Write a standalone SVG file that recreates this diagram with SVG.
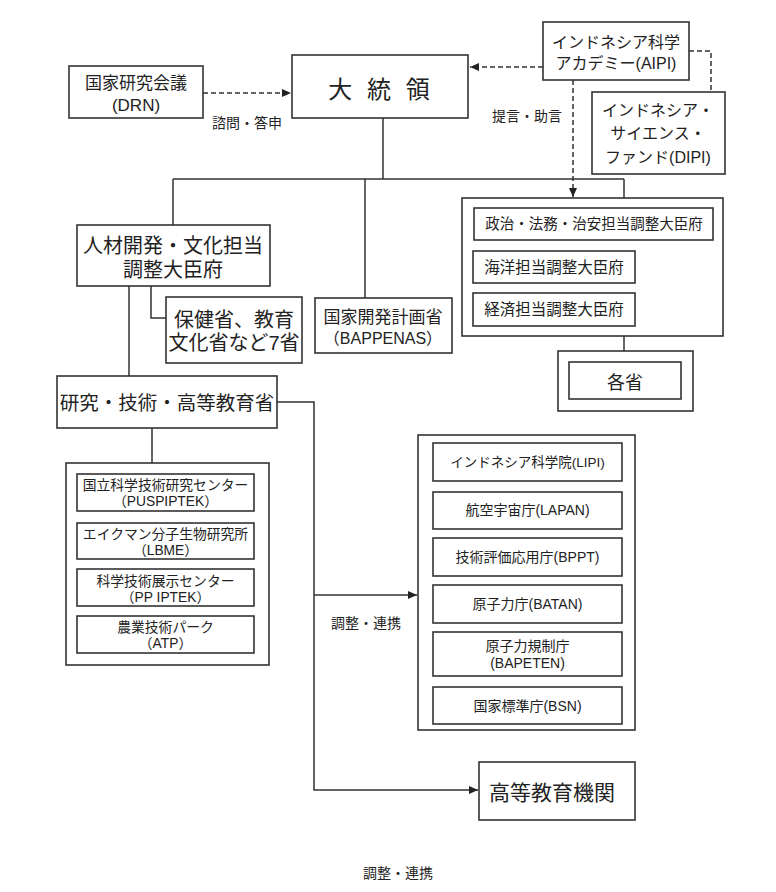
<svg xmlns="http://www.w3.org/2000/svg" width="776" height="892" viewBox="0 0 776 892">
<style>
.box{fill:#fff;stroke:#333;stroke-width:1.6}
.ln{fill:none;stroke:#333;stroke-width:1.5}
.dash{fill:none;stroke:#333;stroke-width:1.5;stroke-dasharray:5,3}
text{font-family:"Liberation Sans","Noto Sans CJK JP",sans-serif;fill:#222;text-anchor:middle}
</style>
<defs>
<marker id="ah" markerUnits="userSpaceOnUse" markerWidth="10" markerHeight="10" viewBox="0 0 10 10" refX="9" refY="5" orient="auto">
<path d="M0,1 L9,5 L0,9 Z" fill="#222"/>
</marker>
</defs>
<rect width="776" height="892" fill="#fff"/>
<g id="connectors">
<line class="dash" x1="203" y1="93" x2="291" y2="93" marker-end="url(#ah)"/>
<line class="dash" x1="543" y1="67" x2="470" y2="67" marker-end="url(#ah)"/>
<polyline class="dash" points="689,51 711,51 711,92"/>
<line class="dash" x1="573" y1="80" x2="573" y2="197" marker-end="url(#ah)"/>
<line class="ln" x1="383" y1="118" x2="383" y2="179"/>
<line class="ln" x1="173" y1="179" x2="624" y2="179"/>
<line class="ln" x1="173" y1="179" x2="173" y2="225"/>
<line class="ln" x1="365" y1="179" x2="365" y2="298"/>
<line class="ln" x1="624" y1="179" x2="624" y2="198"/>
<line class="ln" x1="624" y1="336" x2="624" y2="351"/>
<polyline class="ln" points="151,286 151,318 166,318"/>
<line class="ln" x1="129" y1="286" x2="129" y2="376"/>
<line class="ln" x1="152" y1="428" x2="152" y2="463"/>
<polyline class="ln" points="277,402 314,402 314,790 478,790" marker-end="url(#ah)"/>
<line class="ln" x1="314" y1="595" x2="417" y2="595" marker-end="url(#ah)"/>
</g>
<g id="drn">
<rect class="box" x="69" y="66" width="134" height="52"/>
<text x="136" y="89" font-size="17">国家研究会議</text>
<text x="136" y="111" font-size="17">(DRN)</text>
</g>
<g id="label-shimon">
<text x="247" y="128" font-size="14">諮問・答申</text>
</g>
<g id="president">
<rect class="box" x="292" y="55" width="176" height="63"/>
<text x="381" y="98" font-size="24" letter-spacing="4">大 統 領</text>
</g>
<g id="aipi">
<rect class="box" x="543" y="22" width="146" height="58"/>
<text x="616" y="48" font-size="16">インドネシア科学</text>
<text x="616" y="69" font-size="16">アカデミー(AIPI)</text>
</g>
<g id="dipi">
<rect class="box" x="592" y="92" width="133" height="82"/>
<text x="658" y="116" font-size="16">インドネシア・</text>
<text x="658" y="139" font-size="16">サイエンス・</text>
<text x="658" y="163" font-size="16">ファンド(DIPI)</text>
</g>
<g id="label-teigen">
<text x="527" y="121" font-size="14">提言・助言</text>
</g>
<g id="jinzai">
<rect class="box" x="77" y="225" width="193" height="61"/>
<text x="173" y="253" font-size="20">人材開発・文化担当</text>
<text x="173" y="277" font-size="20">調整大臣府</text>
</g>
<g id="hoken">
<rect class="box" x="166" y="297" width="136" height="66"/>
<text x="234" y="327" font-size="20">保健省、教育</text>
<text x="234" y="350" font-size="20">文化省など7省</text>
</g>
<g id="bappenas">
<rect class="box" x="315" y="298" width="137" height="55"/>
<text x="383" y="323" font-size="17">国家開発計画省</text>
<text x="383" y="344" font-size="16">（BAPPENAS）</text>
</g>
<g id="coord-group">
<rect class="box" x="462" y="198" width="261" height="138"/>
<g id="seiji">
<rect class="box" x="474" y="208" width="239" height="32"/>
<text x="594" y="229" font-size="14.5">政治・法務・治安担当調整大臣府</text>
</g>
<g id="kaiyo">
<rect class="box" x="473" y="251" width="162" height="32"/>
<text x="554" y="272.5" font-size="15.5">海洋担当調整大臣府</text>
</g>
<g id="keizai">
<rect class="box" x="473" y="293" width="162" height="33"/>
<text x="554" y="315" font-size="15.5">経済担当調整大臣府</text>
</g>
</g>
<g id="kakusho">
<rect class="box" x="558" y="351" width="135" height="60"/>
<rect class="box" x="569" y="362" width="112" height="37"/>
<text x="625" y="388.5" font-size="18">各省</text>
</g>
<g id="ristek">
<rect class="box" x="57" y="376" width="220" height="52"/>
<text x="167" y="410" font-size="19.5">研究・技術・高等教育省</text>
</g>
<g id="ristek-group">
<rect class="box" x="66" y="463" width="203" height="202"/>
<g id="puspiptek">
<rect class="box" x="77" y="474" width="177" height="37"/>
<text x="165.5" y="490" font-size="13.8">国立科学技術研究センター</text>
<text x="165.5" y="506" font-size="13.8">（PUSPIPTEK）</text>
</g>
<g id="lbme">
<rect class="box" x="77" y="523" width="177" height="36"/>
<text x="165.5" y="539" font-size="13.8">エイクマン分子生物研究所</text>
<text x="165.5" y="555" font-size="13.8">（LBME）</text>
</g>
<g id="ppiptek">
<rect class="box" x="77" y="569" width="177" height="37"/>
<text x="165.5" y="586" font-size="13.8">科学技術展示センター</text>
<text x="165.5" y="602" font-size="13.8">（PP IPTEK）</text>
</g>
<g id="atp">
<rect class="box" x="77" y="616" width="177" height="37"/>
<text x="165.5" y="632" font-size="13.8">農業技術パーク</text>
<text x="165.5" y="648" font-size="13.8">（ATP）</text>
</g>
</g>
<g id="agency-group">
<rect class="box" x="418" y="435" width="217" height="295"/>
<g id="lipi">
<rect class="box" x="433" y="443" width="189" height="38"/>
<text x="527.5" y="467" font-size="13.5">インドネシア科学院(LIPI)</text>
</g>
<g id="lapan">
<rect class="box" x="433" y="492" width="189" height="37"/>
<text x="527.5" y="515" font-size="14">航空宇宙庁(LAPAN)</text>
</g>
<g id="bppt">
<rect class="box" x="433" y="538" width="189" height="38"/>
<text x="527.5" y="562" font-size="14">技術評価応用庁(BPPT)</text>
</g>
<g id="batan">
<rect class="box" x="433" y="585" width="189" height="38"/>
<text x="527.5" y="609" font-size="14">原子力庁(BATAN)</text>
</g>
<g id="bapeten">
<rect class="box" x="433" y="632" width="189" height="44"/>
<text x="527.5" y="651" font-size="14">原子力規制庁</text>
<text x="527.5" y="668" font-size="14">(BAPETEN)</text>
</g>
<g id="bsn">
<rect class="box" x="433" y="687" width="189" height="37"/>
<text x="527.5" y="711" font-size="14">国家標準庁(BSN)</text>
</g>
</g>
<g id="label-chosei">
<text x="366" y="628" font-size="14">調整・連携</text>
</g>
<g id="higher-ed">
<rect class="box" x="479" y="762" width="156" height="58"/>
<text x="552" y="799.5" font-size="21">高等教育機関</text>
</g>
<g id="label-chosei-bottom">
<text x="398" y="878" font-size="14">調整・連携</text>
</g>
</svg>
